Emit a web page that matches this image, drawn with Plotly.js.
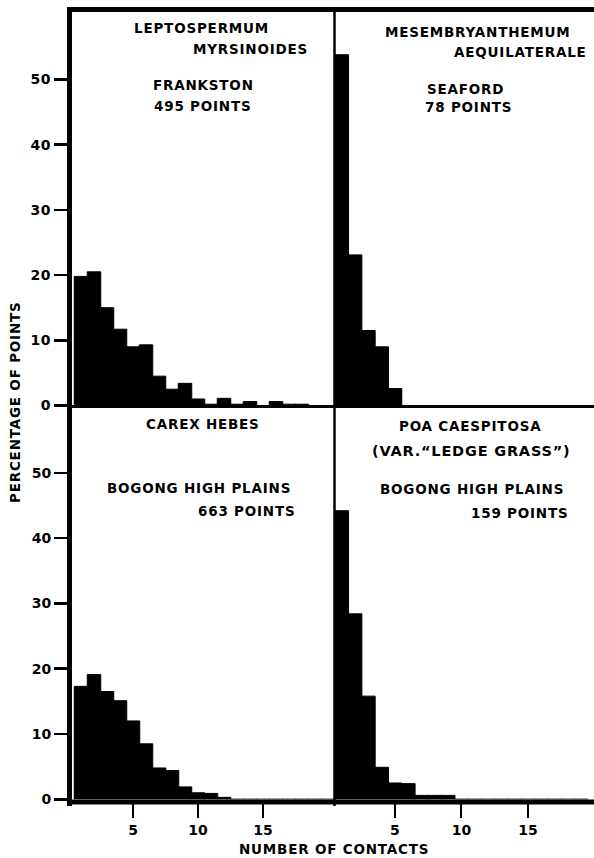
<!DOCTYPE html>
<html>
<head>
<meta charset="utf-8">
<script src="https://cdn.plot.ly/plotly-3.0.1.min.js"></script>
<style>
  html, body { margin: 0; padding: 0; background: #fff; }
  #chart { width: 594px; height: 858px; }
  .annotation-text { letter-spacing: 0.8px; }
  .xtick text, .ytick text { letter-spacing: 0.6px; }
</style>
</head>
<body>
<div id="chart"></div>
<script>
// ---- data (percentage of points by number of contacts) ----
const contacts = [1,2,3,4,5,6,7,8,9,10,11,12,13,14,15,16,17,18,19,20];
const leptospermum = [19.8, 20.5, 15.0, 11.7, 9.0, 9.3, 4.5, 2.5, 3.4, 1.0, 0.2, 1.1, 0.2, 0.6, 0, 0.6, 0.2, 0.2, 0, 0];
const mesembryanthemum = [53.8, 23.1, 11.5, 9.0, 2.6, 0, 0, 0, 0, 0, 0, 0, 0, 0, 0, 0, 0, 0, 0];
const carex = [17.3, 19.1, 16.5, 15.1, 12.0, 8.5, 4.8, 4.4, 1.9, 1.0, 0.9, 0.3, 0, 0, 0, 0, 0, 0, 0, 0];
const poa = [44.2, 28.4, 15.8, 4.9, 2.5, 2.4, 0.6, 0.6, 0.6, 0, 0, 0, 0, 0, 0, 0, 0, 0, 0];
const yTicks = [0, 10, 20, 30, 40, 50];
const xTicks = [5, 10, 15];
const panelTexts = [
  ["LEPTOSPERMUM", "MYRSINOIDES", "FRANKSTON", "495 POINTS"],
  ["MESEMBRYANTHEMUM", "AEQUILATERALE", "SEAFORD", "78 POINTS"],
  ["CAREX HEBES", "BOGONG HIGH PLAINS", "663 POINTS"],
  ["POA CAESPITOSA", "(VAR.“LEDGE GRASS”)", "BOGONG HIGH PLAINS", "159 POINTS"]
];
const yTitle = "PERCENTAGE OF POINTS";
const xTitle = "NUMBER OF CONTACTS";

// ---- layout helpers (pixel -> paper) ----
const W = 594, H = 858;
const px = v => v / W;
const py = v => 1 - v / H;
const FONT = {family: "DejaVu Sans", size: 13.5, color: "#000", weight: 700};
const TICKFONT = {family: "DejaVu Sans", size: 14, color: "#000", weight: 700};

function barTrace(vals, xa, ya) {
  return {
    type: "bar", x: contacts.slice(0, vals.length), y: vals, width: 1.04,
    xaxis: xa, yaxis: ya,
    marker: {color: "#000", line: {color: "#000", width: 1}},
    hoverinfo: "skip", showlegend: false
  };
}

const data = [
  barTrace(leptospermum, "x", "y"),
  barTrace(mesembryanthemum, "x2", "y2"),
  barTrace(carex, "x3", "y3"),
  barTrace(poa, "x4", "y4")
];

const leftDom = [px(68), px(335)];
const rightDom = [px(335), 1];
const topDom = [py(405.5), py(10)];
const botDom = [py(799.3), py(406)];
const leftRange = [0, 20.54];
const rightRange = [0.5, 19.97];
const topRange = [0, 60.66];
const botRange = [0, 60.23];

function xax(dom, range, anchor, showTicks) {
  const a = {domain: dom, range: range, anchor: anchor, showgrid: false, zeroline: false,
             showline: false, fixedrange: true};
  if (showTicks) {
    Object.assign(a, {tickmode: "array", tickvals: xTicks, ticktext: xTicks.map(String),
      ticks: "outside", ticklen: 18, tickwidth: 2, tickcolor: "#000", tickfont: TICKFONT,
      showticklabels: true});
  } else {
    Object.assign(a, {showticklabels: false, ticks: ""});
  }
  return a;
}
function yax(dom, range, anchor, showTicks) {
  const a = {domain: dom, range: range, anchor: anchor, showgrid: false, zeroline: false,
             showline: false, fixedrange: true};
  if (showTicks) {
    Object.assign(a, {tickmode: "array", tickvals: yTicks, ticktext: yTicks.map(String),
      ticks: "outside", ticklen: 13, tickwidth: 2.5, tickcolor: "#000", tickfont: TICKFONT,
      showticklabels: true});
  } else {
    Object.assign(a, {showticklabels: false, ticks: ""});
  }
  return a;
}

function ann(text, x, y, extra) {
  return Object.assign({text: text, x: px(x), y: py(y), xref: "paper", yref: "paper",
    xanchor: "center", yanchor: "middle", showarrow: false, font: FONT}, extra || {});
}

const annotations = [
  ann(panelTexts[0][0], 201, 28),
  ann(panelTexts[0][1], 250, 48.5),
  ann(panelTexts[0][2], 203, 85),
  ann(panelTexts[0][3], 203, 105.5),
  ann(panelTexts[1][0], 478, 32),
  ann(panelTexts[1][1], 520, 52.5),
  ann(panelTexts[1][2], 465, 89),
  ann(panelTexts[1][3], 468, 107),
  ann(panelTexts[2][0], 203, 423.5),
  ann(panelTexts[2][1], 199, 487.5),
  ann(panelTexts[2][2], 247, 511),
  ann(panelTexts[3][0], 470, 426),
  ann(panelTexts[3][1], 471, 451, {font: Object.assign({}, FONT, {size: 14.5})}),
  ann(panelTexts[3][2], 472, 489),
  ann(panelTexts[3][3], 520, 512.5),
  ann(yTitle, 15, 402, {textangle: -90}),
  ann(xTitle, 334, 849)
];

function line(x0, y0, x1, y1, w) {
  return {type: "line", xref: "paper", yref: "paper", x0: px(x0), y0: py(y0), x1: px(x1), y1: py(y1),
          line: {color: "#000", width: w}, layer: "above"};
}
const shapes = [
  line(69.5, 7, 69.5, 806, 5),     // left frame
  line(67, 9.5, 594, 9.5, 5),      // top frame
  line(334.5, 7, 334.5, 806, 2.5), // vertical divider
  line(67, 406.5, 594, 406.5, 3),  // middle divider
  line(67, 802, 594, 802, 5)       // bottom frame
];

const layout = {
  width: W, height: H,
  margin: {l: 0, r: 0, t: 0, b: 0, pad: 0},
  paper_bgcolor: "#fff", plot_bgcolor: "rgba(0,0,0,0)",
  bargap: 0, showlegend: false,
  font: FONT,
  xaxis: xax(leftDom, leftRange, "y", false),
  yaxis: yax(topDom, topRange, "x", true),
  xaxis2: xax(rightDom, rightRange, "y2", false),
  yaxis2: yax(topDom, topRange, "x2", false),
  xaxis3: xax(leftDom, leftRange, "y3", true),
  yaxis3: yax(botDom, botRange, "x3", true),
  xaxis4: xax(rightDom, rightRange, "y4", true),
  yaxis4: yax(botDom, botRange, "x4", false),
  annotations: annotations,
  shapes: shapes
};

Plotly.newPlot("chart", data, layout, {staticPlot: true, displayModeBar: false});
</script>
</body>
</html>
